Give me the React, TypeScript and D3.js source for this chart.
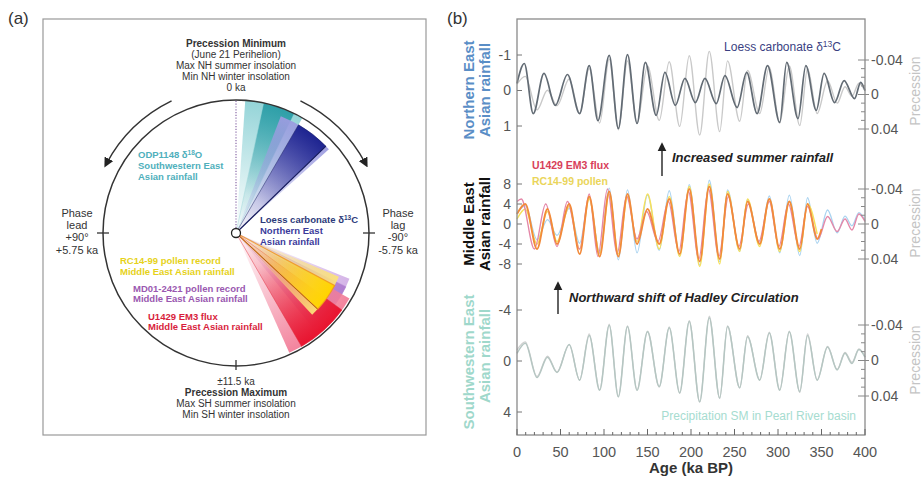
import React from 'react';
import * as d3 from 'd3';

// ---------- panel (b) data (age in ka BP, value) ----------
const ageTicks = [0, 50, 100, 150, 200, 250, 300, 350, 400];
const topTicks = [-1, 0, 1];
const midTicks = [8, 4, 0, -4, -8];
const botTicks = [-4, 0, 4];
const precTicks = [-0.04, 0, 0.04];

// precession index extrema
const precession: [number, number][] = [
  [0, -0.012], [9.5, -0.021], [23, 0.018], [35, -0.005], [46, 0.013], [60, -0.018],
  [72, 0.022], [83, -0.03], [95, 0.033], [106, -0.041], [116.5, 0.041], [127, -0.039],
  [138, 0.033], [150, -0.033], [163.5, 0.03], [175, -0.038], [187, 0.037], [198, -0.045],
  [210, 0.047], [221, -0.05], [233, 0.043], [242, -0.039], [256, 0.031], [265, -0.028],
  [279, 0.022], [290, -0.032], [302, 0.033], [313, -0.033], [325, 0.036], [334, -0.03],
  [345, 0.022], [357, -0.016], [368, 0.01], [377, -0.009], [385, 0.002], [393, -0.013],
  [400, -0.004],
];

// loess carbonate d13C (northern East Asian rainfall)
const loess: [number, number][] = [
  [0, -0.2], [8.4, -0.76], [18.7, 0.65], [31, -0.48], [44, 0.42], [58, -0.45], [72, 0.65],
  [83, -0.7], [93, 0.85], [106, -0.99], [116.5, 1.07], [127, -1.01], [138, 0.93],
  [147.5, -0.79], [160, 0.7], [170, -0.51], [182, 0.42], [193, -0.34], [205, 0.34],
  [216, -0.34], [229, 0.37], [239, -0.42], [253, 0.48], [264, -0.51], [276, 0.65],
  [288, -0.7], [302, 0.9], [310, -0.79], [323, 0.79], [332, -0.7], [344, 0.56],
  [353, -0.48], [365, 0.34], [376, -0.28], [388, 0.23], [395, -0.23], [400, 0],
];

// U1429 EM3 flux (orange trace)
const emFlux: [number, number][] = [
  [0, 2], [9.5, 4], [23, -5], [35, 3], [46, -4], [60, 4], [72, -6], [83, 5.5], [95, -6.5],
  [106, 6.5], [116.5, -6.5], [127, 6], [138, -4], [150, 3], [163.5, -4], [175, 5], [187, -6],
  [198, 7], [210, -7.5], [221, 7.5], [233, -7], [242, 6], [256, -5], [265, 4.5], [279, -4],
  [290, 5], [302, -5], [313, 4.5], [325, -5], [334, 4], [345, -3], [350, -1],
];

// pink trace, runs to 400 ka
const pinkTrace: [number, number][] = [
  [0, 4.5], [5, 5], [20, -5], [33, 4], [46, -4.5], [58, 4.5], [72, -5], [83, 6], [93, -6.5],
  [104, 7], [115, -6], [126, 5.5], [138, -3], [149, 2.5], [162, -3.5], [174, 4.5], [186, -5.5],
  [197, 6.5], [209, -7], [220, 7], [232, -6.5], [243, 5.5], [255, -4.5], [266, 4], [278, -3.5],
  [290, 4.5], [301, -4.5], [312, 4], [324, -4.5], [334, 3.5], [346, -3], [357, 1.5],
  [368, -1.5], [377, 1], [385, -1.2], [393, 2], [400, 0.5],
];

// RC14-99 pollen
const pollen: [number, number][] = [
  [0, 1], [9.5, 3], [23, -4], [35, 2.5], [46, -3.5], [60, 3.5], [72, -5], [83, 5], [95, -6],
  [106, 6], [116.5, -6], [127, 5.5], [138, -3.5], [150, 6], [163.5, -5], [175, 5.5], [187, -6.5],
  [198, 7.5], [210, -8.5], [221, 8], [233, -8], [242, 6.5], [256, -5.5], [265, 5], [279, -4.5],
  [290, 5], [302, -5.5], [313, 4.5], [325, -5.5], [334, 4], [345, -2],
];

// precipitation SM in Pearl River basin
const pearlRiver: [number, number][] = [
  [0, -0.6], [9.5, -1.4], [23, 1.3], [35, -0.3], [46, 0.9], [60, -1.3], [72, 1.5], [83, -2],
  [95, 2.3], [106, -2.8], [116.5, 2.8], [127, -2.7], [138, 2.3], [150, -2.3], [163.5, 2],
  [175, -2.6], [187, 2.5], [198, -3.1], [210, 3.2], [221, -3.4], [233, 2.9], [242, -2.7],
  [256, 2.1], [265, -1.9], [279, 1.5], [290, -2.2], [302, 2.3], [313, -2.3], [325, 2.4],
  [334, -2], [345, 1.5], [357, -1.1], [368, 0.7], [377, -0.6], [385, 0.2], [393, -0.9],
  [400, -0.3],
];

// ---------- panel (a) phase wedges (degrees clockwise from precession minimum) ----------
const phaseNames = ['MD01-2421', 'U1429', 'RC14-99', 'ODP1148', 'Loess'];
const phaseOuter: [number, number][] = [[112, 141], [120, 156], [113, 137], [4, 30], [21, 48]];
const phaseInner: [number, number][] = [[116, 136], [126, 150], [118, 133], [12, 26], [30, 46]];
const phaseReach = [0.92, 0.985, 0.84, 1, 0.94];

const wedgeColors: Record<string, { light: string; deep: string; edge: string }> = {
  'MD01-2421': { light: '#d2b0e6', deep: '#b07ed0', edge: '#b68ad4' },
  U1429: { light: '#f27d98', deep: '#e8142f', edge: '#e23040' },
  'RC14-99': { light: '#fbe27a', deep: '#ffd400', edge: '#f0901c' },
  ODP1148: { light: '#8fd2d6', deep: '#2e9fa8', edge: '#9fd6da' },
  Loess: { light: '#9c9ce0', deep: '#1e2490', edge: '#1a1f60' },
};

const font = 'Arial, "Liberation Sans", Helvetica, sans-serif';
const rad = (d: number) => (d * Math.PI) / 180;

const App = () => {
  // panel (a) geometry
  const cx = 236;
  const cy = 233;
  const R = 133;
  const wedge = (a: [number, number], r: number) =>
    d3.arc()({ innerRadius: 0, outerRadius: r, startAngle: rad(a[0]), endAngle: rad(a[1]) } as any) || '';

  const arrowPath = (side: 1 | -1) => {
    const p = d3.path();
    const r = 147;
    if (side === 1) p.arc(cx, cy, r, rad(26 - 90), rad(62 - 90), false);
    else p.arc(cx, cy, r, rad(-26 - 90), rad(-62 - 90), true);
    return p.toString();
  };

  // panel (b) scales
  const x = d3.scaleLinear().domain([0, 400]).range([517, 865]);
  const yTop = d3.scaleLinear().domain([-1, 1]).range([55, 126]);
  const pTop = d3.scaleLinear().domain([-0.04, 0.04]).range([60, 129]);
  const yMid = d3.scaleLinear().domain([8, -8]).range([184, 264]);
  const pMid = d3.scaleLinear().domain([-0.04, 0.04]).range([189, 259]);
  const yBot = d3.scaleLinear().domain([-4, 4]).range([310, 412]);
  const pBot = d3.scaleLinear().domain([-0.04, 0.04]).range([325, 396]);

  const line = (data: [number, number][], y: d3.ScaleLinear<number, number>) =>
    d3.line<[number, number]>().x((d) => x(d[0])).y((d) => y(d[1])).curve(d3.curveMonotoneX)(data) || '';

  const minorAges = d3.range(0, 401, 10);
  const leftAxis = (ticks: number[], y: d3.ScaleLinear<number, number>) =>
    ticks.map((t) => (
      <g key={t}>
        <line x1={517} x2={522} y1={y(t)} y2={y(t)} stroke="#777" />
        <text x={511} y={y(t)} dy="0.35em" textAnchor="end" fontSize={14} fill="#555">{String(t)}</text>
      </g>
    ));
  const rightAxis = (y: d3.ScaleLinear<number, number>) => (
    <g>
      {d3.range(-0.04, 0.0401, 0.01).map((t, i) => (
        <line key={i} x1={i % 4 === 0 ? 858 : 861} x2={865} y1={y(t)} y2={y(t)} stroke="#888" />
      ))}
      {precTicks.map((t) => (
        <g key={t}>
          <line x1={865} x2={869} y1={y(t)} y2={y(t)} stroke="#888" />
          <text x={871} y={y(t)} dy="0.35em" fontSize={14} fill="#555">{String(t)}</text>
        </g>
      ))}
    </g>
  );

  return (
    <svg width={924} height={480} style={{ position: 'absolute', left: 0, top: 0, background: '#fff' }} fontFamily={font}>
      <defs>
        <marker id="ah" viewBox="0 0 10 10" refX="6" refY="5" markerWidth="6.5" markerHeight="6.5" orient="auto">
          <path d="M0,0 L10,5 L0,10 z" fill="#222" />
        </marker>
        {phaseNames.map((n, i) => (
          <g key={n}>
            <radialGradient id={`g-${i}`} gradientUnits="userSpaceOnUse" cx={0} cy={0} r={R * phaseReach[i]}>
              <stop offset="0" stopColor={wedgeColors[n].deep} stopOpacity={0} />
              <stop offset="0.3" stopColor={wedgeColors[n].deep} stopOpacity={0.15} />
              <stop offset="0.75" stopColor={wedgeColors[n].deep} stopOpacity={0.7} />
              <stop offset="1" stopColor={wedgeColors[n].deep} stopOpacity={1} />
            </radialGradient>
            <radialGradient id={`l-${i}`} gradientUnits="userSpaceOnUse" cx={0} cy={0} r={R * phaseReach[i]}>
              <stop offset="0" stopColor={wedgeColors[n].light} stopOpacity={0} />
              <stop offset="0.35" stopColor={wedgeColors[n].light} stopOpacity={0.3} />
              <stop offset="1" stopColor={wedgeColors[n].light} stopOpacity={0.95} />
            </radialGradient>
          </g>
        ))}
      </defs>

      {/* ---------------- panel (a) ---------------- */}
      <text x={8} y={24} fontSize={17} fill="#333">(a)</text>
      <rect x={43} y={19} width={383} height={416} fill="none" stroke="#999" strokeWidth={1.2} />

      {phaseNames.map((n, i) => (
        <g key={n} transform={`translate(${cx},${cy})`}>
          <path d={wedge(phaseOuter[i], R * phaseReach[i])} fill={`url(#l-${i})`} />
          <path d={wedge(phaseInner[i], R * phaseReach[i])} fill={`url(#g-${i})`}
            stroke={wedgeColors[n].edge} strokeWidth={n === 'RC14-99' ? 1.2 : 0.6} strokeOpacity={0.8} />
        </g>
      ))}
      {/* loess mean line */}
      <line x1={cx} y1={cy} x2={cx + R * 0.94 * Math.sin(rad(46))} y2={cy - R * 0.94 * Math.cos(rad(46))} stroke="#1a1f60" strokeWidth={1.2} />
      <line x1={cx} y1={cy} x2={cx + R * 0.84 * Math.sin(rad(133))} y2={cy - R * 0.84 * Math.cos(rad(133))} stroke="#b06020" strokeWidth={1} />

      <line x1={cx} x2={cx} y1={cy - 5} y2={cy - R} stroke="#8a6aa8" strokeWidth={1.2} strokeDasharray="1.2,1.6" />
      <circle cx={cx} cy={cy} r={R} fill="none" stroke="#333" strokeWidth={1.5} />
      <circle cx={cx} cy={cy} r={4.5} fill="#fff" stroke="#222" strokeWidth={1.3} />
      <line x1={cx - R - 6} x2={cx - R + 6} y1={cy} y2={cy} stroke="#333" strokeWidth={1.3} />
      <line x1={cx + R - 6} x2={cx + R + 6} y1={cy} y2={cy} stroke="#333" strokeWidth={1.3} />
      <line x1={cx} x2={cx} y1={cy + R - 6} y2={cy + R + 4} stroke="#333" strokeWidth={1.3} />

      <path d={arrowPath(1)} fill="none" stroke="#333" strokeWidth={1.5} markerEnd="url(#ah)" />
      <path d={arrowPath(-1)} fill="none" stroke="#333" strokeWidth={1.5} markerEnd="url(#ah)" />

      <g fontSize={10} fill="#333" textAnchor="middle">
        <text x={cx} y={47} fontWeight="bold">Precession Minimum</text>
        <text x={cx} y={58}>(June 21 Perihelion)</text>
        <text x={cx} y={69}>Max NH summer insolation</text>
        <text x={cx} y={80}>Min NH winter insolation</text>
        <text x={cx} y={91}>0 ka</text>
        <text x={cx} y={385}>±11.5 ka</text>
        <text x={cx} y={394} dy="0.2em" fontWeight="bold">Precession Maximum</text>
        <text x={cx} y={405} dy="0.2em">Max SH summer insolation</text>
        <text x={cx} y={416} dy="0.2em">Min SH winter insolation</text>
      </g>
      <g fontSize={11} fill="#333" textAnchor="middle">
        <text x={77} y={217}>Phase</text>
        <text x={77} y={229}>lead</text>
        <text x={77} y={241}>+90°</text>
        <text x={77} y={254}>+5.75 ka</text>
        <text x={398} y={217}>Phase</text>
        <text x={398} y={229}>lag</text>
        <text x={398} y={241}>-90°</text>
        <text x={398} y={254}>-5.75 ka</text>
      </g>
      <g fontSize={9.5} fontWeight="bold">
        <text x={138} y={158} fill="#4fb0bc">ODP1148 δ<tspan dy={-3} fontSize={6.5}>18</tspan><tspan dy={3}>O</tspan></text>
        <text x={138} y={169} fill="#4fb0bc">Southwestern East</text>
        <text x={138} y={180} fill="#4fb0bc">Asian rainfall</text>
        <text x={260} y={223} fill="#2c3a7a">Loess carbonate δ<tspan dy={-3} fontSize={6.5}>13</tspan><tspan dy={3}>C</tspan></text>
        <text x={260} y={234} fill="#3b3b9b">Northern East</text>
        <text x={260} y={245} fill="#3b3b9b">Asian rainfall</text>
        <text x={120} y={264} fill="#e6d21a">RC14-99 pollen record</text>
        <text x={120} y={275} fill="#e6d21a">Middle East Asian rainfall</text>
        <text x={133} y={292} fill="#9a58b0">MD01-2421 pollen record</text>
        <text x={133} y={302} fill="#9a58b0">Middle East Asian rainfall</text>
        <text x={148} y={320} fill="#d81e3c">U1429 EM3 flux</text>
        <text x={148} y={330} fill="#d81e3c">Middle East Asian rainfall</text>
      </g>

      {/* ---------------- panel (b) ---------------- */}
      <text x={447} y={24} fontSize={17} fill="#333">(b)</text>

      {/* top: northern East Asia */}
      <path d={line(precession, pTop)} fill="none" stroke="#c9c9c9" strokeWidth={1.4} />
      <path d={line(loess, yTop)} fill="none" stroke="#626b74" strokeWidth={1.7} />

      {/* middle: Middle East Asia */}
      <path d={line(precession, pMid)} fill="none" stroke="#a9d3f0" strokeWidth={1.3} />
      <path d={line(pollen, yMid)} fill="none" stroke="#f6e05a" strokeWidth={1.5} />
      <path d={line(pinkTrace, yMid)} fill="none" stroke="#e487a8" strokeWidth={1.4} />
      <path d={line(emFlux, yMid)} fill="none" stroke="#f28a3a" strokeWidth={1.8} />

      {/* bottom: southwestern East Asia */}
      <path d={line(precession, pBot)} fill="none" stroke="#d0d0d0" strokeWidth={1.3} />
      <path d={line(pearlRiver, yBot)} fill="none" stroke="#b5c6c2" strokeWidth={1.5} />

      <rect x={517} y={19} width={348} height={416} fill="none" stroke="#8a8a8a" strokeWidth={1.3} />

      {leftAxis(topTicks, yTop)}
      {leftAxis(midTicks, yMid)}
      {leftAxis(botTicks, yBot)}
      {rightAxis(pTop)}
      {rightAxis(pMid)}
      {rightAxis(pBot)}

      {minorAges.map((a) => (
        <line key={a} x1={x(a)} x2={x(a)} y1={435} y2={a % 50 === 0 ? 429 : 432} stroke="#666" />
      ))}
      {ageTicks.map((a) => (
        <text key={a} x={x(a)} y={452} dy="0.35em" textAnchor="middle" fontSize={14.5} fill="#555">{a}</text>
      ))}
      <text x={691} y={468} dy="0.35em" textAnchor="middle" fontSize={15} fontWeight="bold" fill="#333">Age (ka BP)</text>

      {/* left rotated titles */}
      <g fontSize={15} fontWeight="bold" textAnchor="middle">
        <text transform="translate(474,90) rotate(-90)" fill="#5a8ec6">Northern East</text>
        <text transform="translate(490,90) rotate(-90)" fill="#5a8ec6">Asian rainfall</text>
        <text transform="translate(474,224) rotate(-90)" fill="#111">Middle East</text>
        <text transform="translate(490,224) rotate(-90)" fill="#111">Asian rainfall</text>
        <text transform="translate(474,362) rotate(-90)" fill="#9fd8cb">Southwestern East</text>
        <text transform="translate(490,356) rotate(-90)" fill="#9fd8cb">Asian rainfall</text>
      </g>
      <g fontSize={14} fill="#c4c4c4" textAnchor="middle">
        <text transform="translate(920,91) rotate(-90)">Precession</text>
        <text transform="translate(920,223) rotate(-90)">Precession</text>
        <text transform="translate(920,360) rotate(-90)">Precession</text>
      </g>

      <text x={841} y={47} dy="0.35em" textAnchor="end" fontSize={12} fill="#3a3f82">Loess carbonate δ<tspan dy={-4} fontSize={8.5}>13</tspan><tspan dy={4}>C</tspan></text>
      <text x={532} y={165} dy="0.35em" fontSize={10.5} fontWeight="bold" fill="#d8405a">U1429 EM3 flux</text>
      <text x={532} y={181} dy="0.35em" fontSize={10.5} fontWeight="bold" fill="#ead55a">RC14-99 pollen</text>
      <text x={856} y={416} dy="0.35em" textAnchor="end" fontSize={12} fill="#a6dcd0">Precipitation SM in Pearl River basin</text>

      <line x1={662} x2={662} y1={176} y2={146} stroke="#222" strokeWidth={1.4} markerEnd="url(#ah)" />
      <text x={672} y={157} dy="0.35em" fontSize={13} fontWeight="bold" fontStyle="italic" fill="#222">Increased summer rainfall</text>
      <line x1={558} x2={558} y1={314} y2={285} stroke="#222" strokeWidth={1.4} markerEnd="url(#ah)" />
      <text x={569} y={297} dy="0.35em" fontSize={13} fontWeight="bold" fontStyle="italic" fill="#222">Northward shift of Hadley Circulation</text>
    </svg>
  );
};

export default App;
